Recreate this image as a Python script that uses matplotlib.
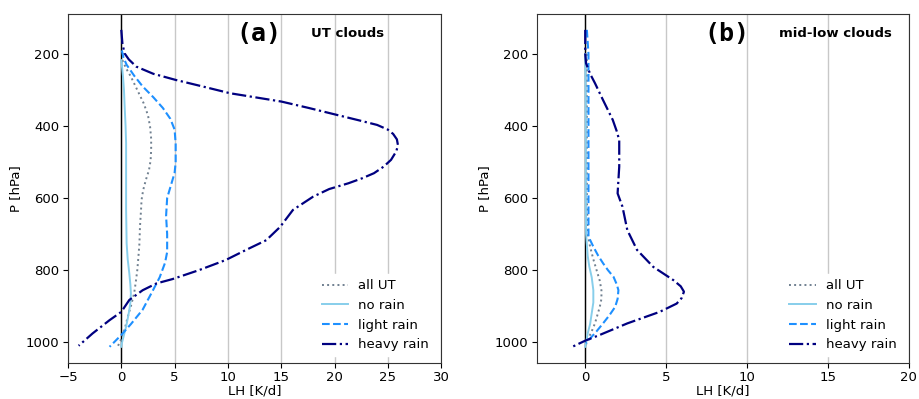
import matplotlib
matplotlib.use("Agg")
import matplotlib.pyplot as plt

# ---------------- Panel (a): UT clouds ----------------
a_all_p = [217, 240, 263, 300, 337, 370, 402, 435, 467, 495, 522, 550, 578, 605, 633, 680, 726, 765, 800, 835, 865, 900, 930, 960, 985, 1013]
a_all_x = [0.1, 0.45, 0.9, 1.5, 2.1, 2.5, 2.7, 2.8, 2.8, 2.75, 2.6, 2.3, 2.05, 1.9, 1.85, 1.75, 1.7, 1.6, 1.5, 1.35, 1.2, 0.9, 0.6, 0.35, 0.1, -0.35]

a_no_p = [217, 260, 300, 337, 400, 448, 540, 633, 726, 770, 809, 840, 865, 890, 911, 935, 957, 980, 1003, 1013]
a_no_x = [0.0, 0.15, 0.25, 0.3, 0.4, 0.45, 0.45, 0.45, 0.5, 0.6, 0.75, 0.85, 0.9, 0.85, 0.75, 0.6, 0.45, 0.25, 0.05, 0.0]

a_light_p = [190, 210, 230, 260, 290, 320, 350, 380, 410, 450, 500, 530, 560, 600, 650, 700, 750, 780, 820, 860, 910, 950, 980, 1013]
a_light_x = [0.05, 0.2, 0.5, 1.2, 2.0, 3.0, 3.9, 4.6, 5.0, 5.1, 5.1, 5.0, 4.7, 4.3, 4.2, 4.3, 4.3, 4.1, 3.6, 2.9, 2.0, 0.9, 0.0, -1.1]

a_heavy_p = [133, 170, 198, 215, 235, 255, 272, 290, 309, 332, 350, 369, 385, 397, 410, 422, 437, 453, 470, 494, 513, 531, 545, 559, 575, 596, 633, 680, 717, 744, 772, 800, 825, 837, 856, 883, 916, 939, 976, 1010]
a_heavy_x = [0.0, 0.1, 0.3, 0.7, 1.4, 3.0, 5.1, 7.6, 10.2, 15.0, 17.6, 20.2, 22.4, 24.0, 25.0, 25.5, 25.85, 25.95, 25.8, 25.3, 24.6, 23.7, 22.6, 21.3, 19.5, 18.0, 16.1, 14.9, 13.6, 11.7, 9.8, 7.3, 4.8, 3.3, 2.0, 0.75, 0.0, -1.1, -2.7, -4.0]

# ---------------- Panel (b): mid-low clouds ----------------
b_all_p = [200, 300, 400, 500, 600, 700, 735, 770, 800, 830, 856, 880, 902, 925, 948, 970, 994, 1013]
b_all_x = [0.1, 0.1, 0.1, 0.1, 0.1, 0.15, 0.3, 0.5, 0.7, 0.9, 1.0, 1.0, 0.9, 0.75, 0.6, 0.4, 0.15, 0.0]

b_no_p = [200, 300, 400, 500, 600, 700, 760, 790, 820, 856, 890, 920, 950, 976, 1003, 1013]
b_no_x = [0.0, 0.02, 0.03, 0.03, 0.03, 0.05, 0.15, 0.25, 0.4, 0.5, 0.5, 0.4, 0.3, 0.15, 0.05, 0.0]

b_light_p = [133, 200, 300, 400, 500, 600, 707, 735, 760, 781, 800, 819, 840, 856, 880, 902, 925, 948, 970, 985, 1003]
b_light_x = [0.1, 0.2, 0.2, 0.2, 0.2, 0.2, 0.2, 0.5, 0.8, 1.1, 1.4, 1.75, 1.95, 2.05, 2.0, 1.85, 1.5, 1.1, 0.7, 0.4, 0.05]

b_heavy_p = [133, 200, 226, 255, 281, 328, 383, 415, 439, 513, 550, 587, 624, 689, 744, 791, 828, 845, 860, 878, 893, 916, 948, 980, 996, 1013]
b_heavy_x = [0.0, 0.0, 0.05, 0.3, 0.6, 1.1, 1.7, 1.95, 2.1, 2.1, 2.05, 2.0, 2.3, 2.6, 3.2, 4.2, 5.45, 5.9, 6.1, 5.95, 5.65, 4.6, 2.6, 0.9, 0.0, -0.8]

labels = ["all UT", "no rain", "light rain", "heavy rain"]
colors = ["slategray", "skyblue", "dodgerblue", "navy"]
styles = [":", "-", "--", "-."]
widths = [1.4, 1.4, 1.5, 1.6]

panels = [
    dict(series=[(a_all_p, a_all_x), (a_no_p, a_no_x), (a_light_p, a_light_x), (a_heavy_p, a_heavy_x)],
         xlim=(-5, 30), xticks=[-5, 0, 5, 10, 15, 20, 25, 30], tag="(a)", title="UT clouds",
         rect=[0.074, 0.0902, 0.406, 0.8747]),
    dict(series=[(b_all_p, b_all_x), (b_no_p, b_no_x), (b_light_p, b_light_x), (b_heavy_p, b_heavy_x)],
         xlim=(-3, 20), xticks=[0, 5, 10, 15, 20], tag="(b)", title="mid-low clouds",
         rect=[0.584, 0.0902, 0.405, 0.8747]),
]

fig = plt.figure(figsize=(9.19, 3.99), dpi=100)
for pn in panels:
    ax = fig.add_axes(pn["rect"])
    ax.axvline(0, color="k", lw=1.0, zorder=1)
    for (p, x), lab, c, ls, lw in zip(pn["series"], labels, colors, styles, widths):
        ax.plot(x, p, color=c, ls=ls, lw=lw, label=lab, zorder=3)
    ax.set_xlim(*pn["xlim"])
    ax.set_xticks(pn["xticks"])
    ax.set_ylim(1058, 89)
    ax.set_yticks([200, 400, 600, 800, 1000])
    ax.grid(axis="x", color="#c8c8c8", lw=1.0, zorder=0)
    ax.set_axisbelow(True)
    ax.tick_params(labelsize=9.5, pad=2.5)
    ax.set_xlabel("LH [K/d]", fontsize=9.5, labelpad=0)
    ax.set_ylabel("P [hPa]", fontsize=9.5, labelpad=3)
    for s in ax.spines.values():
        s.set_color("#333333")
    ax.text(0.45, 0.943, pn["tag"], transform=ax.transAxes, fontsize=18,
            fontweight="bold", family="DejaVu Sans Mono", ha="left", va="center")
    ax.text(0.65, 0.943, pn["title"], transform=ax.transAxes, fontsize=9.5,
            fontweight="bold", ha="left", va="center")
    leg = ax.legend(loc="lower right", fontsize=9.5, frameon=True, framealpha=1,
                    edgecolor="white", fancybox=False)

fig.savefig("out.png", dpi=100)
